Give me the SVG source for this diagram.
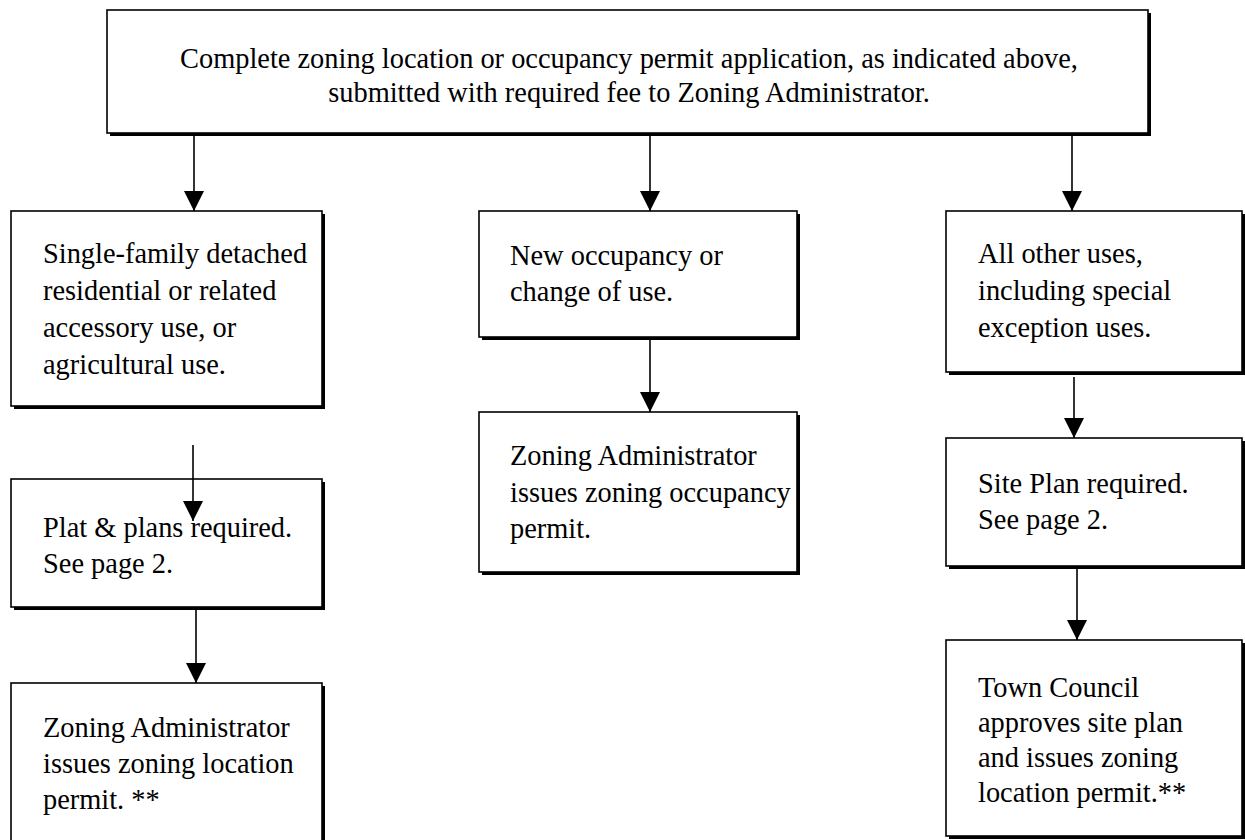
<svg xmlns="http://www.w3.org/2000/svg" width="1245" height="840" viewBox="0 0 1245 840">
<style>
.sh{fill:#000}
.bx{fill:#fff;stroke:#000;stroke-width:1.6}
.t{font-family:"Liberation Serif","Times New Roman",serif;font-size:28.4px;fill:#000}
.c{stroke:#000;stroke-width:1.6;fill:none}
</style>
<defs>
<marker id="ah" viewBox="0 0 20 20" refX="20" refY="10" markerWidth="20" markerHeight="20" markerUnits="userSpaceOnUse" orient="auto">
<path d="M0,0 L20,10 L0,20 Z" fill="#000"/>
</marker>
</defs>
<rect width="1245" height="840" fill="#fff"/>
<g id="n-top">
<rect class="sh" x="110" y="13" width="1041" height="123"/>
<rect class="bx" x="107" y="10" width="1041" height="123"/>
<text class="t" x="629" y="68" text-anchor="middle">Complete zoning location or occupancy permit application, as indicated above,</text>
<text class="t" x="629" y="102" text-anchor="middle">submitted with required fee to Zoning Administrator.</text>
</g>
<g id="n-single">
<rect class="sh" x="14" y="214" width="311" height="195"/>
<rect class="bx" x="11" y="211" width="311" height="195"/>
<text class="t" x="43" y="263">Single-family detached</text>
<text class="t" x="43" y="300">residential or related</text>
<text class="t" x="43" y="337">accessory use, or</text>
<text class="t" x="43" y="374">agricultural use.</text>
</g>
<g id="n-plat">
<rect class="sh" x="14" y="482" width="311" height="128"/>
<rect class="bx" x="11" y="479" width="311" height="128"/>
<text class="t" x="43" y="537">Plat &amp; plans required.</text>
<text class="t" x="43" y="573">See page 2.</text>
</g>
<g id="n-zaloc">
<rect class="sh" x="14" y="686" width="311" height="170"/>
<rect class="bx" x="11" y="683" width="311" height="170"/>
<text class="t" x="43" y="737">Zoning Administrator</text>
<text class="t" x="43" y="773">issues zoning location</text>
<text class="t" x="43" y="809">permit. **</text>
</g>
<g id="n-new">
<rect class="sh" x="482" y="214" width="318" height="126"/>
<rect class="bx" x="479" y="211" width="318" height="126"/>
<text class="t" x="510" y="265">New occupancy or</text>
<text class="t" x="510" y="301">change of use.</text>
</g>
<g id="n-zaocc">
<rect class="sh" x="482" y="415" width="318" height="160"/>
<rect class="bx" x="479" y="412" width="318" height="160"/>
<text class="t" x="510" y="465">Zoning Administrator</text>
<text class="t" x="510" y="502">issues zoning occupancy</text>
<text class="t" x="510" y="538">permit.</text>
</g>
<g id="n-other">
<rect class="sh" x="949" y="214" width="296" height="161"/>
<rect class="bx" x="946" y="211" width="296" height="161"/>
<text class="t" x="978" y="263">All other uses,</text>
<text class="t" x="978" y="300">including special</text>
<text class="t" x="978" y="337">exception uses.</text>
</g>
<g id="n-site">
<rect class="sh" x="949" y="441" width="296" height="128"/>
<rect class="bx" x="946" y="438" width="296" height="128"/>
<text class="t" x="978" y="493">Site Plan required.</text>
<text class="t" x="978" y="529">See page 2.</text>
</g>
<g id="n-council">
<rect class="sh" x="949" y="643" width="296" height="196"/>
<rect class="bx" x="946" y="640" width="296" height="196"/>
<text class="t" x="978" y="697">Town Council</text>
<text class="t" x="978" y="732">approves site plan</text>
<text class="t" x="978" y="767">and issues zoning</text>
<text class="t" x="978" y="802">location permit.**</text>
</g>
<g id="connectors">
<line class="c" x1="194" y1="136" x2="194" y2="211" marker-end="url(#ah)"/>
<line class="c" x1="650" y1="136" x2="650" y2="211" marker-end="url(#ah)"/>
<line class="c" x1="1072" y1="136" x2="1072" y2="211" marker-end="url(#ah)"/>
<line class="c" x1="650" y1="340" x2="650" y2="412" marker-end="url(#ah)"/>
<line class="c" x1="193" y1="445" x2="193" y2="521" marker-end="url(#ah)"/>
<line class="c" x1="196" y1="610" x2="196" y2="683" marker-end="url(#ah)"/>
<line class="c" x1="1074" y1="377" x2="1074" y2="438" marker-end="url(#ah)"/>
<line class="c" x1="1077" y1="569" x2="1077" y2="640" marker-end="url(#ah)"/>
</g>
</svg>
